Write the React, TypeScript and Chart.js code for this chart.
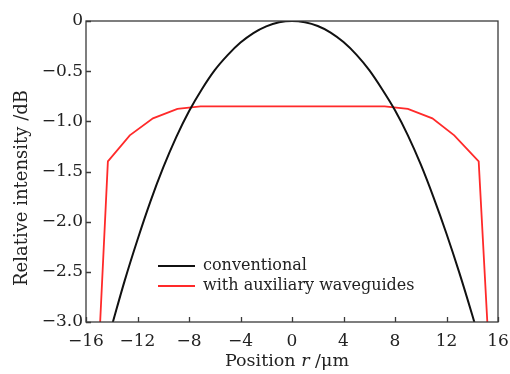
import React, { useEffect, useRef } from "react";
import { Chart, registerables } from "chart.js";

Chart.register(...registerables);

// Conventional design
const convRadius = [-14, -13, -12, -11, -10, -9, -8, -7, -6, -5, -4, -3, -2, -1, 0, 1, 2, 3, 4, 5, 6, 7, 8, 9, 10, 11, 12, 13, 14, 14.5];
const convIntensity = [-3.04, -2.59, -2.18, -1.8, -1.46, -1.16, -0.9, -0.68, -0.49, -0.34, -0.215, -0.12, -0.053, -0.013, 0, -0.013, -0.05, -0.115, -0.21, -0.335, -0.49, -0.68, -0.89, -1.14, -1.43, -1.76, -2.12, -2.51, -2.93, -3.15];

// With auxiliary waveguides
const auxRadius = [-14.9, -14.3, -12.6, -10.8, -8.9, -7.1, 7.2, 9.0, 10.9, 12.6, 14.5, 15.17];
const auxIntensity = [-3.0, -1.4, -1.14, -0.97, -0.875, -0.85, -0.85, -0.875, -0.97, -1.14, -1.4, -3.0];

const xTicks = [-16, -12, -8, -4, 0, 4, 8, 12, 16];
const yTicks = [0, -0.5, -1.0, -1.5, -2.0, -2.5, -3.0];

const seriesNames = ["conventional", "with auxiliary waveguides"];
const seriesColors = ["#111111", "#ff2a2a"];

const FONT = "'DejaVu Serif', serif";

const minus = (s: string) => s.replace("-", "\u2212");

const framePlugin = {
  id: "frame",
  afterDraw(chart: any) {
    const { ctx, chartArea } = chart;
    const { left, top, right, bottom } = chartArea;
    const xs = chart.scales.x;
    const ys = chart.scales.y;
    ctx.save();
    ctx.strokeStyle = "#3a3a3a";
    ctx.lineWidth = 1.3;
    ctx.strokeRect(left, top, right - left, bottom - top);
    ctx.beginPath();
    xTicks.forEach((v) => {
      const px = Math.round(xs.getPixelForValue(v)) + 0.5;
      ctx.moveTo(px, bottom);
      ctx.lineTo(px, bottom - 5);
    });
    yTicks.forEach((v) => {
      const py = Math.round(ys.getPixelForValue(v)) + 0.5;
      ctx.moveTo(left, py);
      ctx.lineTo(left + 5, py);
    });
    ctx.stroke();

    // legend
    const lx = left + 72;
    const ly = top + 245;
    seriesNames.forEach((name, i) => {
      const y = ly + i * 20;
      ctx.strokeStyle = seriesColors[i];
      ctx.lineWidth = 2;
      ctx.beginPath();
      ctx.moveTo(lx, y);
      ctx.lineTo(lx + 37, y);
      ctx.stroke();
      ctx.fillStyle = "#222";
      ctx.font = `16px ${FONT}`;
      ctx.textAlign = "left";
      ctx.textBaseline = "middle";
      ctx.fillText(name, lx + 45, y);
    });

    // y title, fitted to the reference length
    const yTitle = "Relative intensity /dB";
    ctx.font = `16px ${FONT}`;
    const w16 = ctx.measureText(yTitle).width;
    const ySize = Math.min(20, (16 * 196) / w16);
    ctx.save();
    ctx.translate(22, 188);
    ctx.rotate(-Math.PI / 2);
    ctx.fillStyle = "#222";
    ctx.font = `${ySize.toFixed(1)}px ${FONT}`;
    const wy = ctx.measureText(yTitle).width;
    ctx.scale(196 / wy, 1);
    ctx.textAlign = "center";
    ctx.textBaseline = "middle";
    ctx.fillText(yTitle, 0, 0);
    ctx.restore();

    // x title with italic r
    const parts = [
      { t: "Position ", i: false },
      { t: "r", i: true },
      { t: " /\u03bcm", i: false },
    ];
    const xSize = 17.5;
    let total = 0;
    parts.forEach((p) => {
      ctx.font = `${p.i ? "italic " : ""}${xSize}px ${FONT}`;
      total += ctx.measureText(p.t).width;
    });
    let cx = 287 - total / 2;
    ctx.fillStyle = "#222";
    ctx.textAlign = "left";
    ctx.textBaseline = "middle";
    parts.forEach((p) => {
      ctx.font = `${p.i ? "italic " : ""}${xSize}px ${FONT}`;
      ctx.fillText(p.t, cx, 361);
      cx += ctx.measureText(p.t).width;
    });
    ctx.restore();
  },
};

export default function App() {
  const ref = useRef<HTMLCanvasElement | null>(null);
  useEffect(() => {
    if (!ref.current) return;
    const chart = new Chart(ref.current, {
      type: "line",
      data: {
        datasets: [
          {
            label: seriesNames[0],
            data: convRadius.map((r, i) => ({ x: r, y: convIntensity[i] })),
            borderColor: seriesColors[0],
            borderWidth: 2,
            pointRadius: 0,
            cubicInterpolationMode: "monotone",
            clip: 0,
          },
          {
            label: seriesNames[1],
            data: auxRadius.map((r, i) => ({ x: r, y: auxIntensity[i] })),
            borderColor: seriesColors[1],
            borderWidth: 1.8,
            pointRadius: 0,
            tension: 0,
            clip: 0,
          },
        ],
      },
      options: {
        animation: false,
        responsive: true,
        maintainAspectRatio: false,
        layout: { padding: { top: 21, right: 12, left: 0, bottom: 0 } },
        plugins: { legend: { display: false }, tooltip: { enabled: false } },
        scales: {
          x: {
            type: "linear",
            min: -16,
            max: 16,
            afterFit: (s: any) => {
              s.height = 52;
              s.paddingLeft = 0;
              s.paddingRight = 0;
            },
            afterBuildTicks: (s: any) => {
              s.ticks = xTicks.map((v) => ({ value: v }));
            },
            grid: { display: false, drawTicks: false },
            border: { display: false },
            ticks: {
              padding: 9,
              color: "#222",
              font: { family: FONT, size: 17 },
              maxRotation: 0,
              callback: (v: any) => minus(String(v)),
            },
          },
          y: {
            type: "linear",
            min: -3,
            max: 0,
            afterFit: (s: any) => {
              s.width = 86;
              s.paddingTop = 0;
              s.paddingBottom = 0;
            },
            afterBuildTicks: (s: any) => {
              s.ticks = yTicks.map((v) => ({ value: v }));
            },
            grid: { display: false, drawTicks: false },
            border: { display: false },
            ticks: {
              padding: 3,
              color: "#222",
              font: { family: FONT, size: 17 },
              callback: (v: any) => (v === 0 ? "0" : minus(Number(v).toFixed(1))),
            },
          },
        },
      },
      plugins: [framePlugin],
    });
    return () => chart.destroy();
  }, []);
  return (
    <div style={{ position: "fixed", left: 0, top: 0, width: 510, height: 374, background: "#fff" }}>
      <canvas ref={ref} />
    </div>
  );
}
